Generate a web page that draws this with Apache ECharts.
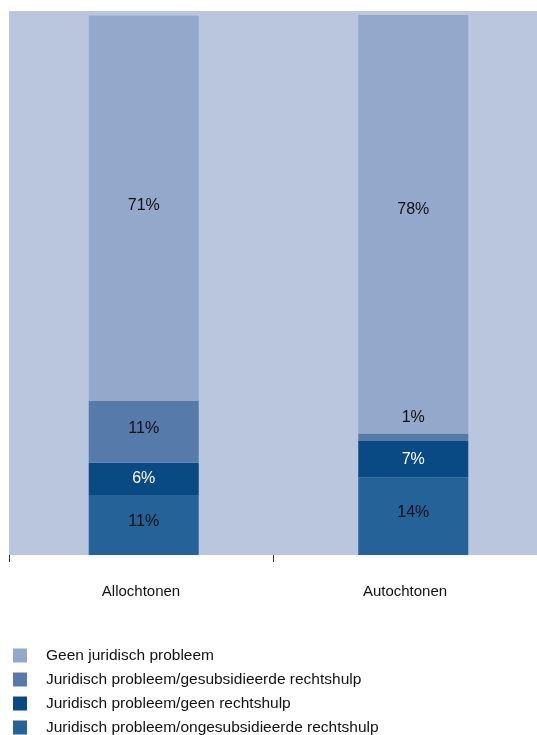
<!DOCTYPE html>
<html>
<head>
<meta charset="utf-8">
<script src="https://cdn.jsdelivr.net/npm/echarts@6/dist/echarts.min.js"></script>
<style>
html,body{margin:0;padding:0;background:#fff;}
#chart{width:537px;height:735px;}
</style>
</head>
<body>
<div id="chart"></div>
<script>
var categories = ['Allochtonen', 'Autochtonen'];
var seriesNames = [
  'Juridisch probleem/ongesubsidieerde rechtshulp',
  'Juridisch probleem/geen rechtshulp',
  'Juridisch probleem/gesubsidieerde rechtshulp',
  'Geen juridisch probleem'
];
var ongesubsidieerd = [11.1, 14.4];
var geenRechtshulp = [6.0, 6.7];
var gesubsidieerd = [11.4, 1.4];
var geenProbleem = [71.4, 77.5];
var legendOrder = [
  'Geen juridisch probleem',
  'Juridisch probleem/gesubsidieerde rechtshulp',
  'Juridisch probleem/geen rechtshulp',
  'Juridisch probleem/ongesubsidieerde rechtshulp'
];

var FONT = '"Liberation Sans", Arial, sans-serif';
var colors = ['#246298', '#0a4a84', '#567aa9', '#93a8cb'];
var labelColors = ['#111', '#fff', '#111', '#111'];
var values = [ongesubsidieerd, geenRechtshulp, gesubsidieerd, geenProbleem];
// per-item label tweaks [series][category]
var labelOffsets = [
  [[0, -3], [0, -4]],
  [[0, 0], [0, 0]],
  [[0, -3], [0, -20]],
  [[0, -3], [0, -15]]
];

var series = values.map(function (arr, si) {
  return {
    name: seriesNames[si],
    type: 'bar',
    stack: 'total',
    xAxisIndex: 1,
    yAxisIndex: 1,
    barWidth: 110,
    itemStyle: { color: colors[si] },
    data: arr.map(function (v, ci) {
      return {
        value: v,
        label: { offset: labelOffsets[si][ci] }
      };
    }),
    label: {
      show: true,
      position: 'inside',
      color: labelColors[si],
      fontFamily: FONT,
      fontSize: 16,
      formatter: function (p) { return Math.round(p.value) + '%'; }
    }
  };
});

var chart = echarts.init(document.getElementById('chart'), null, { renderer: 'canvas' });
chart.setOption({
  animation: false,
  backgroundColor: '#ffffff',
  legend: {
    orient: 'vertical',
    left: 8,
    top: 642.5,
    height: 120,
    itemWidth: 14,
    itemHeight: 14,
    itemGap: 8,
    icon: 'rect',
    data: legendOrder,
    textStyle: { fontFamily: FONT, fontSize: 15.5, color: '#111', padding: [0, 0, 0, 14] },
    selectedMode: false
  },
  grid: [
    { left: 9, top: 11, width: 528, height: 544, show: true, backgroundColor: '#bac6de', borderWidth: 0, outerBoundsMode: 'none' },
    { left: 9, top: 15, width: 539, height: 540, show: false, outerBoundsMode: 'none' }
  ],
  xAxis: [
    {
      type: 'category', gridIndex: 0, data: categories,
      axisLine: { show: false },
      axisTick: { show: true, length: 7, lineStyle: { color: '#333', width: 1 } },
      axisLabel: { margin: 29, fontFamily: FONT, fontSize: 15, color: '#111' }
    },
    {
      type: 'category', gridIndex: 1, data: categories,
      axisLine: { show: false }, axisTick: { show: false }, axisLabel: { show: false }
    }
  ],
  yAxis: [
    { type: 'value', gridIndex: 0, show: false, min: 0, max: 100 },
    { type: 'value', gridIndex: 1, show: false, min: 0, max: 100, splitLine: { show: false } }
  ],
  series: series
});
</script>
</body>
</html>
